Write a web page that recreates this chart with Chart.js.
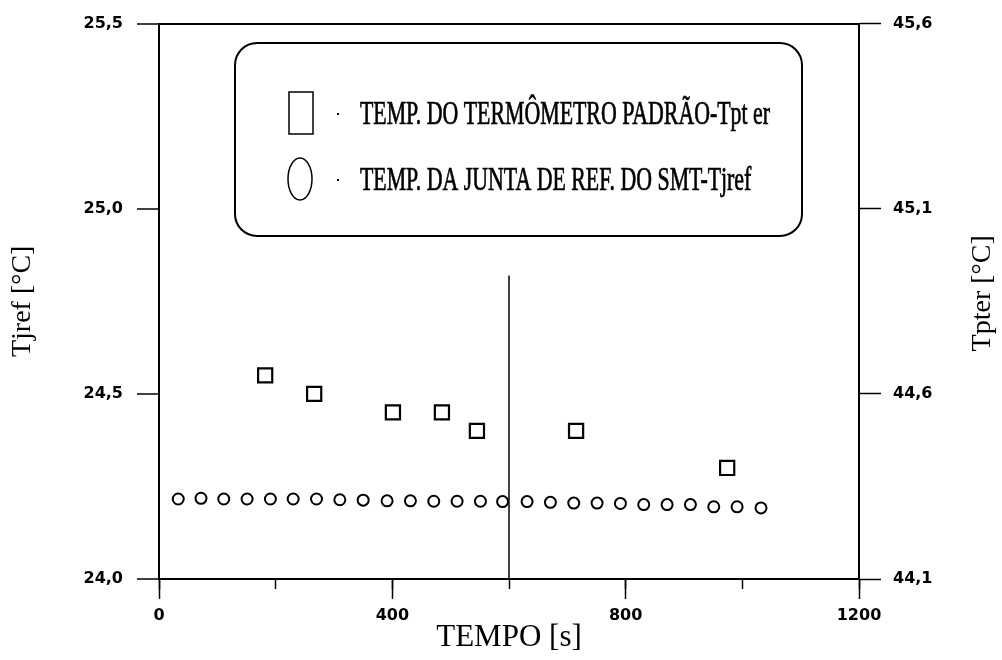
<!DOCTYPE html>
<html>
<head>
<meta charset="utf-8">
<script src="https://cdn.jsdelivr.net/npm/chart.js@4.4.1/dist/chart.umd.min.js"></script>
<style>
  html, body { margin: 0; padding: 0; background: #fff; }
  #wrap { width: 1002px; height: 660px; }
</style>
</head>
<body>
<div id="wrap"><canvas id="chart" width="1002" height="660"></canvas></div>
<script>
// valores: tempo [s] e temperaturas [°C]
const padraoTempo = [182, 266, 401, 485, 545, 715, 974];
const padraoTpter = [44.65, 44.60, 44.55, 44.55, 44.50, 44.50, 44.40];

const juntaTempo = [33, 72, 111, 151, 191, 230, 270, 310, 350, 391, 431, 471, 511,
                    551, 589, 631, 671, 711, 751, 791, 831, 871, 911, 951, 991, 1032];
const juntaTjref = [24.216, 24.218, 24.216, 24.216, 24.216, 24.216, 24.216, 24.214, 24.213,
                    24.211, 24.211, 24.210, 24.210, 24.210, 24.209, 24.209, 24.207, 24.205,
                    24.205, 24.204, 24.201, 24.201, 24.201, 24.195, 24.195, 24.192];

// linha vertical em t = 600 s
const marcaTempo = [600, 600];
const marcaTjref = [24.0, 24.82];

const xTicks = [0, 400, 800, 1200];
const xMinorTicks = [0, 200, 400, 600, 800, 1000, 1200];
const tjrefTicks = [24.0, 24.5, 25.0, 25.5];
const tpterTicks = [44.1, 44.6, 45.1, 45.6];

const legendLabels = ['TEMP. DO TERMÔMETRO PADRÃO-Tpt er', 'TEMP. DA JUNTA DE REF. DO SMT-Tjref'];
const xTitle = 'TEMPO [s]';
const yLeftTitle = 'Tjref [°C]';
const yRightTitle = 'Tpter [°C]';

const tickFont = { family: 'DejaVu Sans', weight: 'bold', size: 16 };
const titleFont = { family: 'Liberation Serif', size: 28, weight: 'normal' };
const virgula = v => Number(v).toFixed(1).replace('.', ',');
const fixTicks = arr => s => { s.ticks = arr.map(v => ({ value: v })); };

// caixa da legenda + título do eixo direito (lido de baixo para cima)
const moldura = {
  id: 'moldura',
  afterDraw(chart) {
    const ctx = chart.ctx;
    const area = chart.chartArea;
    ctx.save();
    ctx.strokeStyle = '#000';
    ctx.fillStyle = '#000';

    ctx.lineWidth = 2;
    ctx.beginPath();
    ctx.roundRect(235, 43, 567, 193, 22);
    ctx.stroke();

    ctx.lineWidth = 1.5;
    ctx.strokeRect(289, 92, 24, 42);
    ctx.beginPath();
    ctx.ellipse(300, 179, 12, 21, 0, 0, 2 * Math.PI);
    ctx.stroke();
    ctx.fillRect(337, 113, 2, 2);
    ctx.fillRect(337, 179, 2, 2);

    ctx.font = '33px "Liberation Serif"';
    ctx.textBaseline = 'alphabetic';
    ctx.lineWidth = 0.7;
    const sx = 410 / ctx.measureText(legendLabels[0]).width;
    legendLabels.forEach((t, i) => {
      ctx.save();
      ctx.translate(360, i ? 190 : 124);
      ctx.scale(sx, 1);
      ctx.fillText(t, 0, 0);
      ctx.strokeText(t, 0, 0);
      ctx.restore();
    });

    ctx.font = '28px "Liberation Serif"';
    ctx.textAlign = 'center';
    ctx.textBaseline = 'middle';
    ctx.translate(983, (area.top + area.bottom) / 2 - 8);
    ctx.rotate(-Math.PI / 2);
    ctx.fillText(yRightTitle, 0, 0);
    ctx.restore();
  }
};

new Chart(document.getElementById('chart'), {
  type: 'scatter',
  data: {
    datasets: [
      {
        label: legendLabels[0],
        data: padraoTempo.map((t, i) => ({ x: t, y: padraoTpter[i] })),
        yAxisID: 'y1',
        pointStyle: 'rect',
        pointRadius: 10,
        pointBorderWidth: 2.2,
        pointBorderColor: '#000',
        pointBackgroundColor: '#fff'
      },
      {
        label: legendLabels[1],
        data: juntaTempo.map((t, i) => ({ x: t, y: juntaTjref[i] })),
        yAxisID: 'y',
        pointStyle: 'circle',
        pointRadius: 5.5,
        pointBorderWidth: 2,
        pointBorderColor: '#000',
        pointBackgroundColor: '#fff'
      },
      {
        type: 'line',
        data: marcaTempo.map((t, i) => ({ x: t, y: marcaTjref[i] })),
        yAxisID: 'y',
        borderColor: '#000',
        borderWidth: 1.5,
        pointRadius: 0,
        showLine: true
      }
    ]
  },
  options: {
    responsive: false,
    animation: false,
    devicePixelRatio: 1,
    layout: { padding: { top: 18, left: 0, right: 0, bottom: 0 } },
    plugins: { legend: { display: false }, tooltip: { enabled: false } },
    scales: {
      x: {
        type: 'linear', position: 'bottom', min: 0, max: 1200, weight: 1,
        afterBuildTicks: fixTicks(xTicks),
        afterFit: s => { s.height = 81; },
        grid: { drawOnChartArea: false, tickLength: 20, tickColor: '#000', tickWidth: 1.5 },
        border: { display: true, color: '#000', width: 2 },
        ticks: { autoSkip: false, maxRotation: 0, padding: 7, color: '#000', font: tickFont,
                 callback: v => String(v) },
        title: { display: true, text: xTitle, color: '#000',
                 font: { family: 'Liberation Serif', size: 31, weight: 'normal' },
                 padding: { top: 0, bottom: 4 } }
      },
      xMenor: {
        type: 'linear', position: 'bottom', min: 0, max: 1200, weight: 0,
        afterBuildTicks: fixTicks(xMinorTicks),
        afterFit: s => { s.height = 0; },
        grid: { drawOnChartArea: false, tickLength: 10, tickColor: '#000', tickWidth: 1.5 },
        border: { display: false },
        ticks: { display: false }
      },
      y: {
        type: 'linear', position: 'left', min: 24.0, max: 25.5,
        afterBuildTicks: fixTicks(tjrefTicks),
        afterFit: s => { s.width = 159; },
        grid: {
          drawOnChartArea: true,
          color: c => (c.tick && c.tick.value === tjrefTicks[tjrefTicks.length - 1]) ? '#000' : 'rgba(0,0,0,0)',
          lineWidth: 2, tickLength: 22, tickColor: '#000', tickWidth: 1.5
        },
        border: { display: true, color: '#000', width: 2 },
        ticks: { autoSkip: false, padding: 14, color: '#000', font: tickFont, callback: virgula },
        title: { display: true, text: yLeftTitle, color: '#000', font: titleFont,
                 padding: { top: 6, bottom: 0 } }
      },
      y1: {
        type: 'linear', position: 'right', min: 44.1, max: 45.6,
        afterBuildTicks: fixTicks(tpterTicks),
        afterFit: s => { s.width = 143; },
        grid: { drawOnChartArea: false, tickLength: 22, tickColor: '#000', tickWidth: 1.5 },
        border: { display: true, color: '#000', width: 2 },
        ticks: { autoSkip: false, padding: 12, color: '#000', font: tickFont, callback: virgula }
      }
    }
  },
  plugins: [moldura]
});
</script>
</body>
</html>
